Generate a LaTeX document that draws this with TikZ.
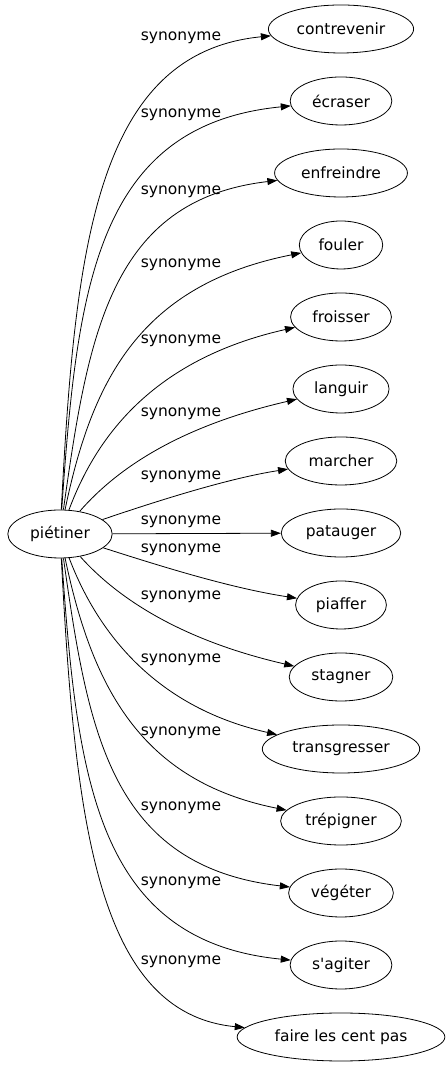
\documentclass[tikz,border=0pt]{standalone}
\usepackage{fontspec}
\setmainfont{DejaVu Sans}
\usetikzlibrary{shapes.geometric, arrows.meta}

\begin{document}
\begin{tikzpicture}[x=1pt, y=1pt]
        % Define styles
        \tikzstyle{word} = [ellipse, draw=black, line width=0.8pt, minimum height=48pt, inner xsep=7pt, inner ysep=0pt, font=\fontsize{15.5}{18}\selectfont]
        \tikzstyle{rel} = [inner sep=0pt, font=\fontsize{15.5}{18}\selectfont]
        \tikzstyle{arrow} = [line width=0.8pt, -{Triangle[length=10pt, width=7pt]}]

        \useasboundingbox (0,0) rectangle (447,1067);

        % Nodes
        \node (pietiner) [word] at (60,533) {piétiner};
        \node (contrevenir) [word] at (341,1038) {contrevenir};
        \node (ecraser) [word] at (341,966) {écraser};
        \node (enfreindre) [word] at (341,894) {enfreindre};
        \node (fouler) [word] at (341,822) {fouler};
        \node (froisser) [word] at (341,750) {froisser};
        \node (languir) [word] at (341,678) {languir};
        \node (marcher) [word] at (341,606) {marcher};
        \node (patauger) [word] at (341,534) {patauger};
        \node (piaffer) [word] at (341,462) {piaffer};
        \node (stagner) [word] at (341,390) {stagner};
        \node (transgresser) [word] at (341,318) {transgresser};
        \node (trepigner) [word] at (341,246) {trépigner};
        \node (vegeter) [word] at (341,174) {végéter};
        \node (sagiter) [word] at (341,102) {s\textquotesingle agiter};
        \node (faire) [word] at (341,30) {faire les cent pas};

        % Arrows
        \draw [arrow] (pietiner) .. controls (75,817) and (95,1014) .. (contrevenir) node [rel] at (181,1029) {synonyme};
        \draw [arrow] (pietiner) .. controls (77,777) and (95,942) .. (ecraser) node [rel] at (181,952) {synonyme};
        \draw [arrow] (pietiner) .. controls (88,732) and (110,867) .. (enfreindre) node [rel] at (181,875) {synonyme};
        \draw [arrow] (pietiner) .. controls (92,687) and (140,782) .. (fouler) node [rel] at (181,802) {synonyme};
        \draw [arrow] (pietiner) .. controls (95,627) and (150,707) .. (froisser) node [rel] at (181,726) {synonyme};
        \draw [arrow] (pietiner) .. controls (120,602) and (185,642) .. (languir) node [rel] at (181,653) {synonyme};
        \draw [arrow] (pietiner) .. controls (160,567) and (230,589) .. (marcher) node [rel] at (181,590) {synonyme};
        \draw [arrow] (pietiner) -- (patauger) node [rel] at (181,545) {synonyme};
        \draw [arrow] (pietiner) .. controls (160,501) and (230,479) .. (piaffer) node [rel] at (181,517) {synonyme};
        \draw [arrow] (pietiner) .. controls (120,466) and (185,426) .. (stagner) node [rel] at (181,470) {synonyme};
        \draw [arrow] (pietiner) .. controls (95,441) and (150,361) .. (transgresser) node [rel] at (181,407) {synonyme};
        \draw [arrow] (pietiner) .. controls (92,381) and (140,286) .. (trepigner) node [rel] at (181,334) {synonyme};
        \draw [arrow] (pietiner) .. controls (88,336) and (110,201) .. (vegeter) node [rel] at (181,259) {synonyme};
        \draw [arrow] (pietiner) .. controls (77,291) and (95,126) .. (sagiter) node [rel] at (181,184) {synonyme};
        \draw [arrow] (pietiner) .. controls (75,251) and (95,54) .. (faire) node [rel] at (181,105) {synonyme};
\end{tikzpicture}
\end{document}
